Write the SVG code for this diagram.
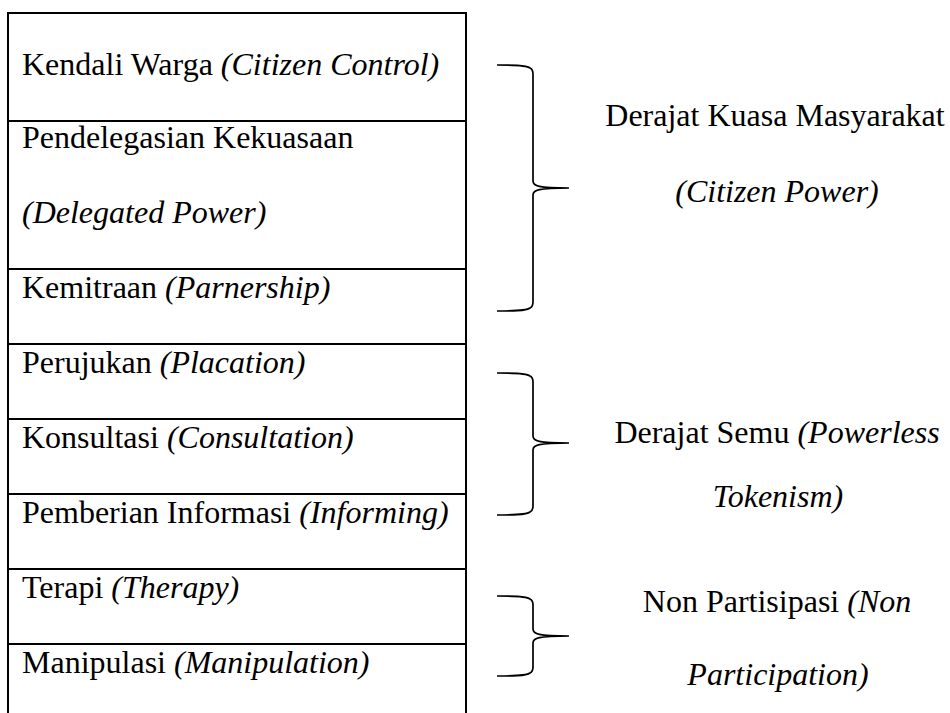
<svg xmlns="http://www.w3.org/2000/svg" width="950" height="713" viewBox="0 0 950 713">
<style>
.t{font-family:"Liberation Serif","Times New Roman",serif;font-size:32px;fill:#000}
.i{font-style:italic}
.c{text-anchor:middle}
.ln{stroke:#000;stroke-width:2;fill:none}
.br{stroke:#000;stroke-width:1.7;fill:none}
</style>
<rect width="950" height="713" fill="#fff"/>
<g id="table">
<path class="ln" d="M8,713 V13 H466 V713"/>
<path class="ln" d="M8,121 H466 M8,269 H466 M8,344 H466 M8,419 H466 M8,494 H466 M8,569 H466 M8,644 H466"/>
</g>
<g id="row-kendali"><text class="t" x="22" y="75">Kendali Warga <tspan class="i">(Citizen Control)</tspan></text></g>
<g id="row-pendelegasian"><text class="t" x="22" y="148">Pendelegasian Kekuasaan</text><text class="t i" x="22" y="223">(Delegated Power)</text></g>
<g id="row-kemitraan"><text class="t" x="22" y="298">Kemitraan <tspan class="i">(Parnership)</tspan></text></g>
<g id="row-perujukan"><text class="t" x="22" y="373">Perujukan <tspan class="i">(Placation)</tspan></text></g>
<g id="row-konsultasi"><text class="t" x="22" y="448">Konsultasi <tspan class="i">(Consultation)</tspan></text></g>
<g id="row-informasi"><text class="t" x="22" y="523">Pemberian Informasi <tspan class="i">(Informing)</tspan></text></g>
<g id="row-terapi"><text class="t" x="22" y="598">Terapi <tspan class="i">(Therapy)</tspan></text></g>
<g id="row-manipulasi"><text class="t" x="22" y="673">Manipulasi <tspan class="i">(Manipulation)</tspan></text></g>
<g id="connectors">
<path class="br" d="M497,65 C512,65 526,65 530,68 C532,69 533,71 533,74 L533,181 C533,186 538,188 569,188 C538,188 533,190 533,195 L533,302 C533,305 532,307 530,308 C526,311 512,311 497,311"/>
<path class="br" d="M497,373 C512,373 526,373 530,376 C532,377 533,379 533,382 L533,436 C533,441 538,443 569,443 C538,443 533,445 533,450 L533,506 C533,509 532,511 530,512 C526,515 512,515 497,515"/>
<path class="br" d="M497,596 C512,596 526,596 530,599 C532,600 533,602 533,605 L533,629 C533,634 538,636 569,636 C538,636 533,638 533,643 L533,667 C533,670 532,672 530,673 C526,676 512,676 497,676"/>
</g>
<g id="label-citizen-power"><text class="t c" x="775" y="126">Derajat Kuasa Masyarakat</text><text class="t c i" x="777" y="202">(Citizen Power)</text></g>
<g id="label-tokenism"><text class="t c" x="777" y="443">Derajat Semu <tspan class="i">(Powerless</tspan></text><text class="t c i" x="778" y="507">Tokenism)</text></g>
<g id="label-nonparticipation"><text class="t c" x="777" y="612">Non Partisipasi <tspan class="i">(Non</tspan></text><text class="t c i" x="778" y="685">Participation)</text></g>
</svg>
